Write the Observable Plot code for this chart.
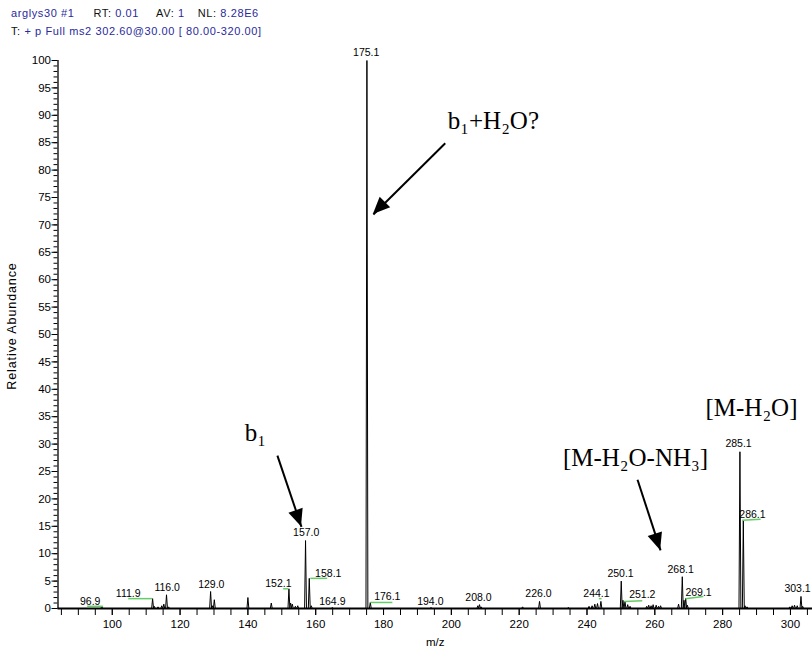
<!DOCTYPE html>
<html><head><meta charset="utf-8">
<script src="https://cdn.jsdelivr.net/npm/d3@7"></script>
<script src="https://cdn.jsdelivr.net/npm/@observablehq/plot@0.6"></script>
<style>
body{margin:0;background:#fff;}
#hdr{height:40px;position:relative;font-family:"Liberation Sans",Arial,sans-serif;font-size:11px;letter-spacing:0.6px;color:#111;}
#hdr div{position:absolute;left:11px;white-space:pre;line-height:12px;}
#hdr span{display:inline-block}
.b{color:#2a2a9c}
</style></head><body>
<div id="hdr">
<div style="top:7px"><span class="b">arglys30 #1</span><span style="margin-left:19px">RT: </span><span class="b">0.01</span><span style="margin-left:17px">AV: </span><span class="b">1</span><span style="margin-left:13px">NL: </span><span class="b">8.28E6</span></div>
<div style="top:25px"><span>T: </span><span class="b">+ p Full ms2 302.60@30.00 [ 80.00-320.00]</span></div>
</div>
<div id="chart"></div>
<script>
// spectrum peaks (m/z, relative abundance %)
const peakMz    = [96.9,111.9,112.4,113.5,114.6,115.2,116.0,116.6,129.0,129.5,130.1,140.0,146.9,152.1,152.6,153.1,154.0,154.7,157.0,158.1,158.7,164.9,175.1,176.1,194.0,207.8,208.3,208.8,221.0,226.0,234.5,240.6,241.5,242.3,243.1,244.1,250.1,250.6,251.2,252.0,252.7,257.6,258.2,258.9,259.5,260.4,261.1,261.7,267.0,268.1,268.6,269.1,269.6,285.1,286.1,286.6,287.2,299.8,300.5,301.2,302.0,303.1,303.6];
const peakAbund = [0.4,1.8,0.4,0.3,0.5,0.8,2.5,0.3,3.1,0.5,1.6,2.0,1.0,3.6,1.0,0.8,0.4,0.5,12.4,5.5,0.5,0.2,100,1.1,0.2,0.5,0.7,0.3,0.3,1.3,0.2,0.4,0.5,0.8,0.9,1.3,5.0,1.5,1.3,0.7,0.4,0.4,0.6,0.5,0.7,0.6,0.4,0.5,0.8,5.8,1.5,1.9,0.6,28.6,16.1,0.5,0.3,0.3,0.5,0.6,0.5,2.2,0.4];

// peak labels
const labelText  = ["96.9","111.9","116.0","129.0","152.1","157.0","158.1","164.9","175.1","176.1","194.0","208.0","226.0","244.1","250.1","251.2","268.1","269.1","285.1","286.1","303.1"];
const labelMz    = [93.5,104.7,116.2,129.2,149.0,157.2,163.7,164.9,174.9,181.1,193.8,208.0,225.7,242.8,249.9,256.3,267.6,272.9,284.7,288.8,302.1];
const labelAbund = [1.3,2.7,3.8,4.4,4.6,13.9,6.4,1.2,101.4,2.2,1.3,2.0,2.7,2.7,6.4,2.6,7.1,2.9,30.1,17.2,3.7];

// green label leaders
const leaderX1 = [92.6,104.7,150.4,158.4,176.1,243.5,251.0,269.0,285.8];
const leaderY1 = [0.4,1.8,3.6,5.5,1.1,1.8,1.3,1.8,16.1];
const leaderX2 = [97.3,111.8,151.9,163.4,182.6,244.3,256.3,274.3,291.2];
const leaderY2 = [0.4,1.8,3.6,5.5,1.1,1.8,1.4,2.2,16.3];

// annotations
const annotText  = ["b₁+H₂O?","b₁","[M-H₂O-NH₃]","[M-H₂O]"];
const annotMz    = [212.4,142.2,254.3,288.5];
const annotAbund = [88.9,32.1,27.4,36.5];
const arrowX1 = [198.2,148.7,254.9];
const arrowY1 = [84.9,27.9,23.5];
const arrowX2 = [177.0,155.8,261.7];
const arrowY2 = [71.9,14.9,10.6];

const xTicksMinor = d3.range(85, 306, 5);
const xTicksMajor = d3.range(100, 301, 20);
const yTicksMinor = d3.range(0, 101, 1);
const yTicksMajor = d3.range(0, 101, 5);

const hw = 0.28;
const profile = peakMz.flatMap((m, i) => [
  {mz: m - hw, a: 0, id: i}, {mz: m, a: peakAbund[i], id: i}, {mz: m + hw, a: 0, id: i}
]);
const labels = labelText.map((t, i) => ({t, x: labelMz[i], y: labelAbund[i]}));
const leaders = leaderX1.map((v, i) => ({x1: v, y1: leaderY1[i], x2: leaderX2[i], y2: leaderY2[i]}));
const annots = annotText.map((t, i) => ({t, x: annotMz[i], y: annotAbund[i]}));
const arrows = arrowX1.map((v, i) => ({x1: v, y1: arrowY1[i], x2: arrowX2[i], y2: arrowY2[i]}));

const plot = Plot.plot({
  width: 812, height: 611,
  marginLeft: 57.5, marginRight: 0, marginTop: 20, marginBottom: 43,
  x: {domain: [84, 306.5]},
  y: {domain: [0, 100]},
  style: {fontFamily: "'Liberation Sans', Arial, sans-serif", fontSize: "11px", color: "#000", background: "white"},
  marks: [
    Plot.axisY({ticks: yTicksMinor, tickSize: 4, tickFormat: () => "", label: null}),
    Plot.axisY({ticks: yTicksMajor, tickSize: 6, tickPadding: 1, label: null, fontSize: 11.5}),
    Plot.axisX({ticks: xTicksMinor, tickSize: 7, tickFormat: () => "", label: null}),
    Plot.axisX({ticks: xTicksMajor, tickSize: 7, tickPadding: 4, label: "m/z", labelAnchor: "center", labelArrow: "none", labelOffset: 37, fontSize: 11.5}),
    Plot.ruleX([84], {y1: 0, y2: 100, stroke: "#222", strokeWidth: 1.5}),
    Plot.line(profile, {x: "mz", y: "a", z: "id", stroke: "#000", strokeWidth: 1}),
    Plot.ruleY([0], {stroke: "#000", strokeWidth: 2}),
    Plot.link(leaders, {x1: "x1", y1: "y1", x2: "x2", y2: "y2", stroke: "#66cc66", strokeWidth: 1.5}),
    Plot.text(labels, {x: "x", y: "y", text: "t", fontSize: 10.5, fill: "#000"}),
    Plot.link(arrows, {x1: "x1", y1: "y1", x2: "x2", y2: "y2", stroke: "#000", strokeWidth: 2, ariaLabel: "annot-arrow"}),
    Plot.text(annots, {x: "x", y: "y", text: "t", fontSize: 25, fontFamily: "'Liberation Serif', 'Times New Roman', serif", fill: "#000", ariaLabel: "annot-text"})
  ]
});

const svg = d3.select(plot);

// y-axis title (rotated), placed in the left margin
svg.append("text")
  .attr("transform", `translate(13,${(20 + 568) / 2 - 8}) rotate(-90)`)
  .attr("text-anchor", "middle").attr("dominant-baseline", "middle")
  .attr("font-size", 12.5).attr("letter-spacing", "0.9px").attr("fill", "#000")
  .text("Relative Abundance");

// filled arrow heads, positioned with the plot's own scales
const sx = plot.scale("x"), sy = plot.scale("y");
const gh = svg.append("g").attr("aria-label", "arrow-heads");
arrows.forEach(a => {
  const x1 = sx.apply(a.x1), y1 = sy.apply(a.y1), x2 = sx.apply(a.x2), y2 = sy.apply(a.y2);
  const ang = Math.atan2(y2 - y1, x2 - x1);
  const L = 17, W = 7.5;
  const bx = x2 - L * Math.cos(ang), by = y2 - L * Math.sin(ang);
  const px = -Math.sin(ang) * W, py = Math.cos(ang) * W;
  gh.append("path").attr("d", `M${x2},${y2}L${bx + px},${by + py}L${bx - px},${by - py}Z`).attr("fill", "#000");
});

// subscripts
const subMap = {"₀":"0","₁":"1","₂":"2","₃":"3","₄":"4"};
svg.selectAll('g[aria-label="annot-text"] text').each(function() {
  const el = d3.select(this);
  const s = this.textContent;
  el.text(null);
  const runs = [];
  for (const ch of s) {
    const sub = ch in subMap;
    if (runs.length && runs[runs.length - 1].sub === sub) runs[runs.length - 1].t += sub ? subMap[ch] : ch;
    else runs.push({sub, t: sub ? subMap[ch] : ch});
  }
  let shifted = false;
  for (const r of runs) {
    const ts = el.append("tspan").text(r.t);
    if (r.sub) { ts.attr("font-size", "17px").attr("dy", "6px"); shifted = true; }
    else if (shifted) { ts.attr("dy", "-6px"); shifted = false; }
  }
});

document.getElementById("chart").appendChild(plot);
</script></body></html>
